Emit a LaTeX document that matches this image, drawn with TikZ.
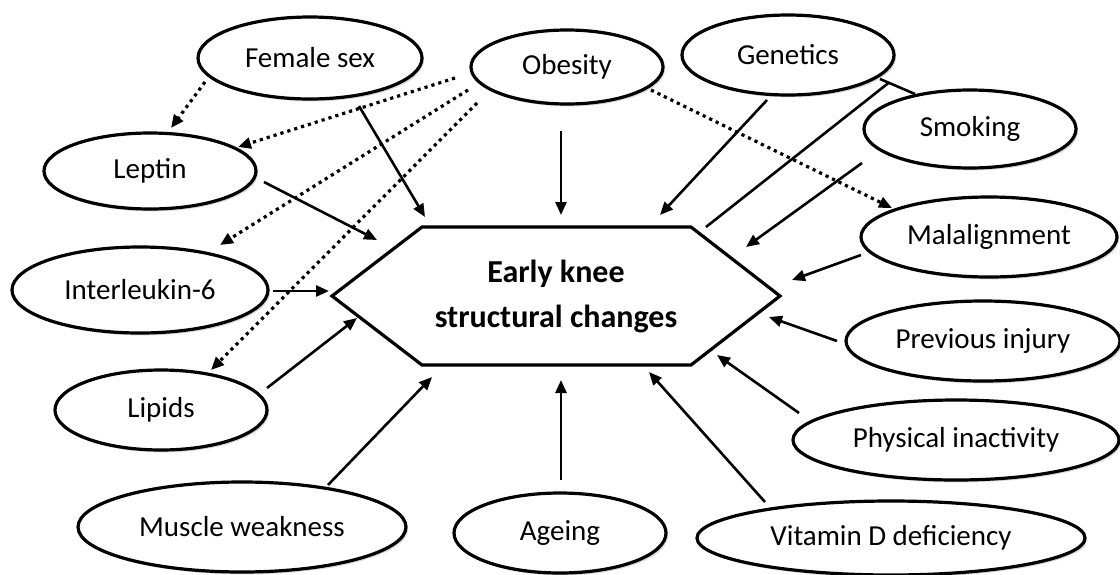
\documentclass[tikz,border=0pt]{standalone}
\usepackage{fontspec}
\setmainfont{Carlito}
\usetikzlibrary{arrows.meta,calc,shapes.geometric,shadows}

\begin{document}
\begin{tikzpicture}[x=0.5pt,y=-0.5pt]
      \useasboundingbox (0,0) rectangle (1120,574);
      \begin{scope}[every node/.style={ellipse,draw,line width=1.6pt,fill=white,inner sep=0pt,
          font=\fontsize{14.5}{17}\selectfont,
          drop shadow={shadow xshift=1pt,shadow yshift=-1.2pt,opacity=.3}}]
        \node (sex) [minimum width=112pt,minimum height=41pt] at (310,58) {Female sex};
        \node (obesity) [minimum width=96pt,minimum height=37pt] at (567,67) {Obesity};
        \node (genetics) [minimum width=106pt,minimum height=40pt] at (788,55) {Genetics};
        \node (smoking) [minimum width=106pt,minimum height=39pt] at (970,129) {Smoking};
        \node (malalign) [minimum width=128pt,minimum height=40pt] at (989,237) {Malalignment};
        \node (leptin) [minimum width=106pt,minimum height=38pt] at (150,171) {Leptin};
        \node (il6) [minimum width=128pt,minimum height=43pt] at (140,290) {Interleukin-6};
        \node (lipids) [minimum width=106pt,minimum height=40pt] at (161,410) {Lipids};
        \node (muscle) [minimum width=164pt,minimum height=45pt] at (242,527) {Muscle weakness};
        \node (ageing) [minimum width=106pt,minimum height=40pt] at (560,533) {Ageing};
        \node (vitd) [minimum width=194pt,minimum height=37pt] at (891,538) {Vitamin D deficiency};
        \node (injury) [minimum width=137pt,minimum height=40pt] at (983,341) {Previous injury};
        \node (inactivity) [minimum width=163pt,minimum height=40pt] at (956,440) {Physical inactivity};
      \end{scope}
      % centre hexagon
      \node (hex) [align=center,font=\bfseries\fontsize{16}{22.5}\selectfont] at (556,296)
        {Early knee\\structural changes};
      \draw[line width=1.6pt,line join=miter] ($(hex)+(-224,0)$) -- ++(90,-69) -- ++(269,0)
        -- ++(89,69) -- ++(-89,69) -- ++(-269,0) -- cycle;
      \begin{scope}
        [every edge/.style={draw=black,line width=1.3pt,-{Triangle[length=6.5pt,width=5.5pt]}}]
        \path ($(sex)+(49,48)$) edge ($(hex)+(-131,-79)$);
        \path ($(obesity)+(-6,64)$) edge ($(hex)+(5,-81)$);
        \path ($(genetics)+(-21,45)$) edge ($(hex)+(104,-81)$);
        \path ($(smoking)+(-108,34)$) edge ($(hex)+(190,-49)$);
        \path ($(malalign)+(-128,18)$) edge ($(hex)+(236,-16)$);
        \path ($(injury)+(-146,0)$) edge ($(hex)+(213,21)$);
        \path ($(inactivity)+(-157,-27)$) edge ($(hex)+(161,59)$);
        \path ($(vitd)+(-126,-36)$) edge ($(hex)+(93,76)$);
        \path ($(ageing)+(1,-53)$) edge ($(hex)+(5,84)$);
        \path ($(muscle)+(86,-42)$) edge ($(hex)+(-124,81)$);
        \path ($(lipids)+(106,-22)$) edge ($(hex)+(-199,22)$);
        \path ($(il6)+(133,1)$) edge ($(hex)+(-227,-5)$);
        \path ($(leptin)+(114,11)$) edge ($(hex)+(-179,-56)$);
      \end{scope}
      % genetics and smoking joined
      \path ($(genetics)+(92,24)$) coordinate (g1) ($(smoking)+(-55,-35)$) coordinate (s1);
      \coordinate (link) at ($(g1)!0.25!(s1)$);
      \draw[line width=1.3pt] (g1) -- (s1);
      \draw[line width=1.3pt] (link) -- ($(hex)+(150,-69)$);
      \begin{scope}
        [every edge/.style={draw=black,line width=1.6pt,dotted,-{Triangle[length=6.5pt,width=5.5pt]}}]
        \path ($(sex)+(-105,24)$) edge ($(leptin)+(21,-43)$);
        \path ($(obesity)+(-112,11)$) edge ($(leptin)+(88,-24)$);
        \path ($(obesity)+(-99,23)$) edge ($(il6)+(80,-45)$);
        \path ($(obesity)+(-90,36)$) edge ($(lipids)+(50,-40)$);
        \path ($(obesity)+(84,23)$) edge ($(malalign)+(-97,-29)$);
      \end{scope}
    \end{tikzpicture}
\end{document}
